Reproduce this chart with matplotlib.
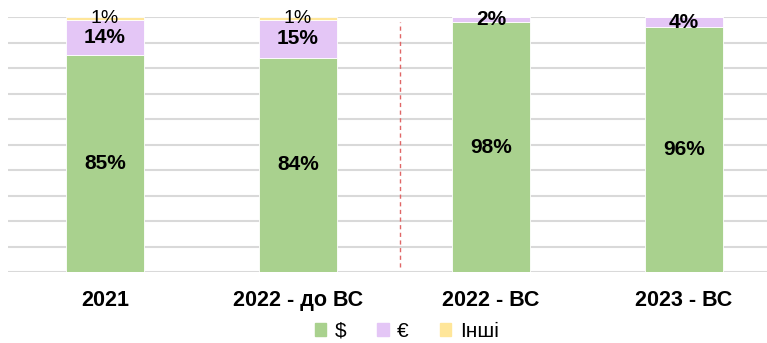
import matplotlib.pyplot as plt
from matplotlib.patches import Patch

plt.rcParams['font.family'] = ['Liberation Sans', 'DejaVu Sans']

categories = ["2021", "2022 - до ВС", "2022 - ВС", "2023 - ВС"]
usd = [85, 84, 98, 96]
eur = [14, 15, 2, 4]
other = [1, 1, 0, 0]

series = [("$", usd, "#A9D18E"), ("€", eur, "#E4C6F6"), ("Інші", other, "#FFE699")]

fig = plt.figure(figsize=(7.67, 3.43), dpi=100)
ax = fig.add_axes([0.011, 0.207, 0.989, 0.743])

x = list(range(len(categories)))
bottom = [0] * len(categories)
for name, vals, color in series:
    ax.bar(x, vals, width=0.4, bottom=bottom, color=color, edgecolor="white",
           linewidth=0.6, zorder=3)
    for i, v in enumerate(vals):
        if v <= 0:
            continue
        y = bottom[i] + v / 2
        if name == "Інші":
            ax.text(i, y, f"{v}%", ha="center", va="center", fontsize=14, zorder=4)
        else:
            ax.text(i, y, f"{v}%", ha="center", va="center", fontsize=15,
                    fontweight="bold", zorder=4)
    bottom = [b + v for b, v in zip(bottom, vals)]

# war start divider
ax.axvline(1.53, ymin=0.02, ymax=0.98, color="#E06666", linestyle=(0, (3, 2.5)),
           linewidth=1.0, zorder=2)

ax.set_xlim(-0.5, 3.43)
ax.set_ylim(0, 100)
ax.set_yticks(range(0, 101, 10))
ax.set_yticklabels([])
ax.yaxis.grid(True, color="#D9D9D9", linewidth=1.5, zorder=0)
ax.tick_params(length=0)
ax.set_xticks(x)
ax.set_xticklabels(categories, fontsize=15.5, fontweight="bold")
ax.tick_params(axis="x", pad=13)
for s in ax.spines.values():
    s.set_visible(False)

handles = [Patch(color=c, label=n) for n, _, c in series]
fig.legend(handles=handles, loc="lower center", bbox_to_anchor=(0.53, -0.03), ncol=3,
           frameon=False, fontsize=15, handlelength=0.55, handleheight=0.55,
           handletextpad=0.4, columnspacing=1.5, borderpad=0.1)

fig.savefig("out.png", dpi=100)
